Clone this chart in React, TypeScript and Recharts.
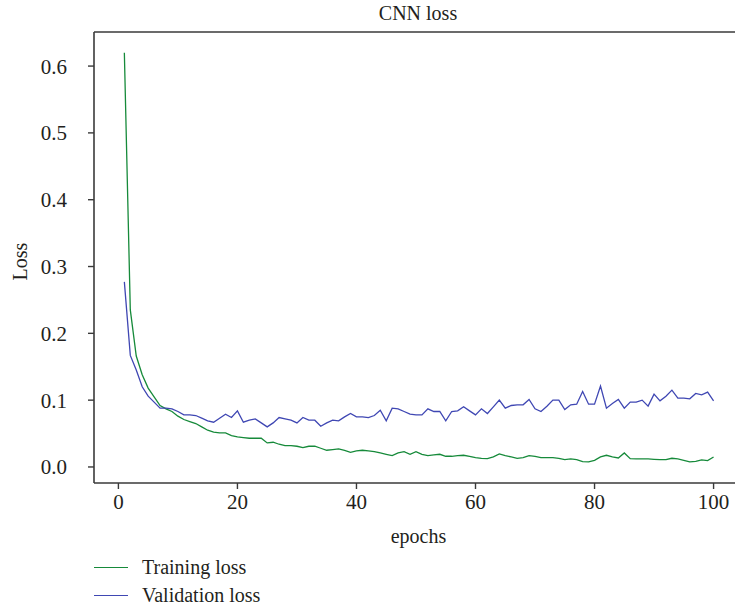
import React from "react";
import { LineChart, Line, XAxis, YAxis, Label } from "recharts";

const epochs: number[] = Array.from({ length: 100 }, (_, i) => i + 1);

const trainingLoss: number[] = [
  0.62, 0.235, 0.166, 0.138, 0.118, 0.105, 0.092, 0.087, 0.083, 0.076,
  0.071, 0.068, 0.065, 0.06, 0.055, 0.052, 0.051, 0.051, 0.047, 0.045,
  0.044, 0.043, 0.043, 0.043, 0.036, 0.037, 0.034, 0.032, 0.032, 0.031,
  0.029, 0.031, 0.031, 0.028, 0.025, 0.026, 0.027, 0.025, 0.022, 0.024,
  0.025, 0.024, 0.023, 0.021, 0.019, 0.017, 0.021, 0.023, 0.019, 0.023,
  0.019, 0.017, 0.018, 0.019, 0.016, 0.016, 0.017, 0.0175, 0.016, 0.014,
  0.013, 0.0125, 0.015, 0.0195, 0.017, 0.015, 0.013, 0.014, 0.017, 0.016,
  0.014, 0.014, 0.014, 0.013, 0.011, 0.012, 0.011, 0.008, 0.0075, 0.01,
  0.015, 0.0175, 0.015, 0.0135, 0.021, 0.0125, 0.012, 0.012, 0.012, 0.0115,
  0.011, 0.011, 0.013, 0.012, 0.01, 0.0075, 0.0085, 0.0105, 0.0095, 0.015,
];

const validationLoss: number[] = [
  0.277, 0.167, 0.145, 0.12, 0.106, 0.097, 0.088, 0.088, 0.087, 0.083,
  0.078, 0.078, 0.077, 0.073, 0.069, 0.067, 0.073, 0.079, 0.074, 0.084,
  0.067, 0.07, 0.072, 0.066, 0.06, 0.066, 0.074, 0.072, 0.07, 0.066,
  0.074, 0.07, 0.07, 0.061, 0.066, 0.07, 0.069, 0.075, 0.08, 0.075,
  0.075, 0.074, 0.077, 0.085, 0.069, 0.088, 0.087, 0.083, 0.079, 0.078,
  0.078, 0.087, 0.083, 0.083, 0.069, 0.083, 0.084, 0.09, 0.084, 0.078,
  0.087, 0.08, 0.09, 0.1, 0.088, 0.092, 0.093, 0.093, 0.101, 0.087,
  0.083, 0.091, 0.1, 0.1, 0.086, 0.093, 0.094, 0.113, 0.094, 0.094,
  0.121, 0.088, 0.095, 0.101, 0.088, 0.097, 0.097, 0.1, 0.091, 0.109,
  0.099, 0.106, 0.115, 0.103, 0.103, 0.102, 0.11, 0.108, 0.112, 0.099,
];

const xTicks: number[] = [0, 20, 40, 60, 80, 100];
const yTicks: number[] = [0, 0.1, 0.2, 0.3, 0.4, 0.5, 0.6];

const title = "CNN loss";
const xLabel = "epochs";
const yLabel = "Loss";
const trainingName = "Training loss";
const validationName = "Validation loss";

const GREEN = "#168a3a";
const BLUE = "#3f47b3";
const AXIS = "#3a3a3a";
const TEXT = "#231f20";
const FONT = "'Liberation Serif', 'DejaVu Serif', serif";

const data = epochs.map((e, i) => ({
  epoch: e,
  train: trainingLoss[i],
  val: validationLoss[i],
}));

const legendItems = [
  { name: trainingName, color: GREEN },
  { name: validationName, color: BLUE },
];

export default function App() {
  return (
    <div style={{ position: "absolute", left: 0, top: 0, width: 735, height: 606, background: "#fff" }}>
      <LineChart
        width={735}
        height={606}
        data={data}
        margin={{ top: 31, right: 0, bottom: 93, left: 0 }}
      >
        <text
          x={418}
          y={20}
          textAnchor="middle"
          style={{ fontFamily: FONT, fontSize: 20, fill: TEXT }}
        >
          {title}
        </text>
        <XAxis
          dataKey="epoch"
          type="number"
          domain={[-4.1, 103.6]}
          ticks={xTicks}
          allowDataOverflow
          height={30}
          tickSize={6}
          tickMargin={5}
          axisLine={{ stroke: AXIS, strokeWidth: 1.6 }}
          tickLine={{ stroke: AXIS, strokeWidth: 1.4 }}
          tick={{ fill: TEXT, fontSize: 21, fontFamily: FONT }}
        >
          <Label
            value={xLabel}
            position="insideBottom"
            offset={-30}
            dx={4}
            style={{ fill: TEXT, fontSize: 20, fontFamily: FONT }}
          />
        </XAxis>
        <XAxis
          xAxisId="top"
          orientation="top"
          dataKey="epoch"
          type="number"
          domain={[-4.1, 103.6]}
          height={1}
          tick={false}
          tickLine={false}
          axisLine={{ stroke: AXIS, strokeWidth: 1.6 }}
        />
        <YAxis
          type="number"
          domain={[-0.024, 0.651]}
          ticks={yTicks}
          allowDataOverflow
          width={94}
          tickSize={6}
          tickMargin={21}
          tickFormatter={(v: number) => v.toFixed(1)}
          axisLine={{ stroke: AXIS, strokeWidth: 1.6 }}
          tickLine={{ stroke: AXIS, strokeWidth: 1.4 }}
          tick={{ fill: TEXT, fontSize: 21, fontFamily: FONT }}
        >
          <Label
            value={yLabel}
            angle={-90}
            position="insideLeft"
            offset={20}
            dy={4}
            style={{ fill: TEXT, fontSize: 20, fontFamily: FONT, textAnchor: "middle" }}
          />
        </YAxis>
        <Line
          type="linear"
          dataKey="train"
          name={trainingName}
          stroke={GREEN}
          strokeWidth={1.3}
          dot={false}
          isAnimationActive={false}
        />
        <Line
          type="linear"
          dataKey="val"
          name={validationName}
          stroke={BLUE}
          strokeWidth={1.3}
          dot={false}
          isAnimationActive={false}
        />
      </LineChart>
      <div
        style={{
          position: "absolute",
          left: 94,
          top: 553,
          fontFamily: FONT,
          fontSize: 20,
          color: TEXT,
        }}
      >
        {legendItems.map((it) => (
          <div key={it.name} style={{ display: "flex", alignItems: "center", height: 28 }}>
            <div style={{ width: 34, height: 0, borderTop: `1.5px solid ${it.color}`, marginRight: 14 }} />
            <span>{it.name}</span>
          </div>
        ))}
      </div>
    </div>
  );
}
